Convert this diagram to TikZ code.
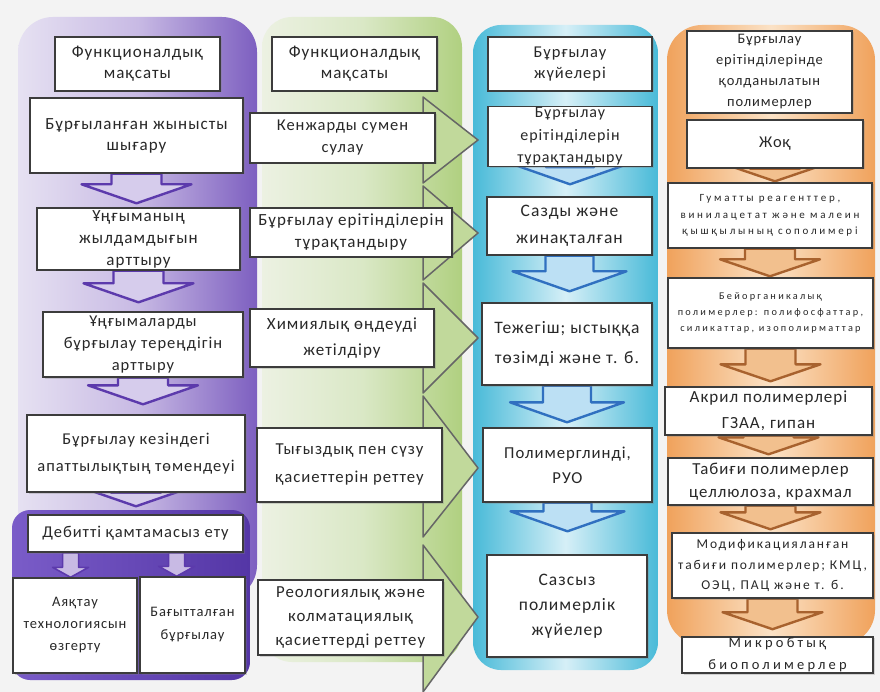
\documentclass[tikz,border=0pt]{standalone}
\usepackage{fontspec}
\setmainfont{Carlito}[LetterSpace=6]
\usetikzlibrary{calc,shadows}
\pgfdeclarelayer{panels}
\pgfdeclarelayer{links}
\pgfsetlayers{panels,links,main}
\definecolor{bgcol}{RGB}{243,243,243}
\definecolor{boxline}{RGB}{60,60,60}
\definecolor{txt}{RGB}{40,40,40}
\definecolor{purpL}{RGB}{230,225,242}
\definecolor{purpM}{RGB}{200,186,228}
\definecolor{purpR}{RGB}{125,95,192}
\definecolor{purpD}{RGB}{122,92,200}
\definecolor{purpE}{RGB}{84,54,166}
\definecolor{purpline}{RGB}{92,58,172}
\definecolor{purparr}{RGB}{214,204,236}
\definecolor{greenL}{RGB}{236,241,226}
\definecolor{greenM}{RGB}{218,232,198}
\definecolor{greenR}{RGB}{176,208,128}
\definecolor{chevfill}{RGB}{193,217,155}
\definecolor{blueE}{RGB}{72,186,216}
\definecolor{blueM}{RGB}{214,239,247}
\definecolor{blueline}{RGB}{48,112,192}
\definecolor{bluearr}{RGB}{188,224,244}
\definecolor{orangeE}{RGB}{240,162,92}
\definecolor{orangeM}{RGB}{251,226,198}
\definecolor{orangeline}{RGB}{168,98,46}
\definecolor{orangearr}{RGB}{242,192,142}
\newcommand{\fsz}[2]{\fontsize{#1}{#2}\selectfont}
\tikzstyle{box}=[rectangle,draw=boxline,line width=1.4pt,fill=white,align=center,inner sep=1pt,text=txt,font=\fsz{16.5}{22},drop shadow={shadow xshift=1.5pt,shadow yshift=-1.5pt,opacity=0.3}]
\tikzstyle{parr}=[draw=purpline,fill=purparr,line width=2.4pt,line join=round]
\tikzstyle{sparr}=[draw=purpline,fill=purpM,line width=1.6pt,line join=round]
\tikzstyle{barr}=[draw=blueline,fill=bluearr,line width=2.4pt,line join=round]
\tikzstyle{oarr}=[draw=orangeline,fill=orangearr,line width=2.4pt,line join=round]
\tikzstyle{chev}=[draw=black!60,fill=chevfill,line width=1.5pt,line join=round]
% block arrow: style, start point, tip point, shaft/head half width, head length
\newcommand{\flowarr}[6][]{%
  \draw[#1] let \p1=#2, \p2=#3 in
    (\x1-#4,\y1) -- (\x1-#4,\y2+#6) -- (\x1-#5,\y2+#6) -- (\x1,\y2)
    -- (\x1+#5,\y2+#6) -- (\x1+#4,\y2+#6) -- (\x1+#4,\y1) -- cycle;}
\begin{document}
\begin{tikzpicture}[x=1pt,y=-1pt]
\useasboundingbox (0,0) rectangle (880,692);
\begin{pgfonlayer}{panels}
\fill[bgcol] (0,0) rectangle (880,692);
\shade[left color=purpL,right color=purpR,middle color=purpM,rounded corners=35] (18,17) rectangle (257,600);
\shade[left color=greenL,right color=greenR,middle color=greenM,rounded corners=30] (262,17) rectangle (462,662);
\shade[left color=blueE,right color=blueE,middle color=blueM,rounded corners=28] (473,25) rectangle (658,670);
\shade[left color=orangeE,right color=orangeE,middle color=orangeM,rounded corners=35] (667,25) rectangle (875,645);
\foreach \ya/\yb/\yc in {97/140/183,186/233/280,283/338/393,396/468/537,545/617/692}
  \draw[chev] (423,\ya) -- (478,\yb) -- (423,\yc) -- cycle;
\end{pgfonlayer}

% column 1
\node[box,minimum width=165,minimum height=54,font=\fsz{17}{21}] (A0) at (137.5,64) {Функционалдық\\мақсаты};
\node[box,minimum width=213,minimum height=75,font=\fsz{17}{21}] (A1) at (136.5,135.5) {Бұрғыланған жынысты\\шығару};
\node[box,minimum width=203,minimum height=62,font=\fsz{17}{22}] (A2) at (138.5,239) {Ұңғыманың\\жылдамдығын\\арттыру};
\node[box,minimum width=200,minimum height=65] (A3) at (143,344.5) {Ұңғымаларды\\бұрғылау тереңдігін\\арттыру};
\node[box,minimum width=218,minimum height=77,font=\fsz{16.5}{27}] (A4) at (136,453.5) {Бұрғылау кезіндегі\\апаттылықтың төмендеуі};
\node[box,minimum width=215,minimum height=37] (A5) at (135.5,533.5) {Дебитті қамтамасыз ету};
\node[box,minimum width=124,minimum height=95,font=\fsz{14.5}{22}] (A6) at (75,625.5) {Аяқтау\\технологиясын\\өзгерту};
\node[box,minimum width=105,minimum height=96,font=\fsz{14.5}{23}] (A7) at (192.5,625) {Бағытталған\\бұрғылау};

% column 2
\node[box,minimum width=165,minimum height=54,font=\fsz{17}{21}] (B0) at (354.5,64) {Функционалдық\\мақсаты};
\node[box,minimum width=185,minimum height=50] (B1) at (342.5,138) {Кенжарды сумен\\сулау};
\node[box,minimum width=202,minimum height=49,font=\fsz{17}{22}] (B2) at (351,232.5) {Бұрғылау ерітінділерін\\тұрақтандыру};
\node[box,minimum width=184,minimum height=58,font=\fsz{17}{26}] (B3) at (342,338) {Химиялық өңдеуді\\жетілдіру};
\node[box,minimum width=185,minimum height=74,font=\fsz{16.7}{28}] (B4) at (349.5,465) {Тығыздық пен сүзу\\қасиеттерін реттеу};
\node[box,minimum width=185,minimum height=75,font=\fsz{16.8}{24}] (B5) at (350.5,617.5) {Реологиялық және\\колматациялық\\қасиеттерді реттеу};

% column 3
\node[box,minimum width=164,minimum height=54,font=\fsz{16.5}{21}] (C0) at (570,64) {Бұрғылау\\жүйелері};
\node[box,minimum width=164,minimum height=57,font=\fsz{16}{22.5}] (C1) at (570,136.5) {Бұрғылау\\ерітінділерін\\тұрақтандыру};
\node[box,minimum width=165,minimum height=58,font=\fsz{17.5}{27}] (C2) at (569.5,226) {Сазды және\\жинақталған};
\node[box,minimum width=170,minimum height=82,font=\fsz{17.5}{30}] (C3) at (567,344) {Тежегіш; ыстыққа\\төзімді және т. б.};
\node[box,minimum width=169,minimum height=74,font=\fsz{16.7}{25}] (C4) at (567.5,465) {Полимерглинді,\\РУО};
\node[box,minimum width=160,minimum height=102,font=\fsz{17.5}{25}] (C5) at (567,606) {Сазсыз\\полимерлік\\жүйелер};

% column 4
\node[box,minimum width=165,minimum height=82,font=\fsz{14.5}{21}] (D0) at (769.5,72) {Бұрғылау\\ерітінділерінде\\қолданылатын\\полимерлер};
\node[box,minimum width=176,minimum height=48] (D1) at (775,144) {Жоқ};
\node[box,minimum width=204,minimum height=65,font={\fsz{11}{16.5}\addfontfeatures{LetterSpace=25}}] (D2) at (770,215.5) {Гуматты реагенттер,\\винилацетат және малеин\\қышқылының сополимері};
\node[box,minimum width=205,minimum height=70,font={\fsz{10.3}{16}\addfontfeatures{LetterSpace=22}}] (D3) at (770.5,313) {Бейорганикалық\\полимерлер: полифосфаттар,\\силикаттар, изополирматтар};
\node[box,minimum width=207,minimum height=48,font=\fsz{17}{26}] (D4) at (768.5,411) {Акрил полимерлері\\ГЗАА, гипан};
\node[box,minimum width=205,minimum height=47,font=\fsz{16.8}{23}] (D5) at (770.5,481.5) {Табиғи полимерлер\\целлюлоза, крахмал};
\node[box,minimum width=201,minimum height=65,font={\fsz{13.5}{20.5}\addfontfeatures{LetterSpace=14}}] (D6) at (772.5,565.5) {Модификацияланған\\табиғи полимерлер; КМЦ,\\ОЭЦ, ПАЦ және т. б.};
\node[box,minimum width=191,minimum height=36,font={\fsz{14.5}{22}\addfontfeatures{LetterSpace=22}}] (D7) at (777.5,655) {Микробтық\\биополимерлер};

\begin{pgfonlayer}{links}
\flowarr[parr]{(A1.south)}{([yshift=4pt]A2.north)}{25pt}{55pt}{19pt}
\flowarr[parr]{(A2.south)}{([yshift=9pt]A3.north)}{25pt}{55pt}{19pt}
\flowarr[parr]{(A3.south)}{([yshift=10pt]A4.north)}{25pt}{55pt}{19pt}
\flowarr[parr]{(A4.south)}{([yshift=8pt]A5.north)}{25pt}{55pt}{19pt}
\shade[left color=purpD,right color=purpE,rounded corners=18] (12,510) rectangle (250,680);
\flowarr[sparr]{($(A5.south west)!0.2!(A5.south east)$)}{(A6.north)}{8pt}{18pt}{10pt}
\flowarr[sparr]{($(A5.south west)!0.69!(A5.south east)$)}{(A7.north)}{8pt}{18pt}{10pt}
\flowarr[barr]{(C1.south)}{([yshift=12pt]C2.north)}{24pt}{57pt}{20pt}
\flowarr[barr]{(C2.south)}{([yshift=11pt]C3.north)}{24pt}{57pt}{20pt}
\flowarr[barr]{(C3.south)}{([yshift=5pt]C4.north)}{24pt}{57pt}{20pt}
\flowarr[barr]{(C4.south)}{([yshift=23pt]C5.north)}{24pt}{57pt}{20pt}
\flowarr[oarr]{(D1.south)}{([yshift=1pt]D2.north)}{25pt}{50pt}{17pt}
\flowarr[oarr]{(D2.south)}{([yshift=1pt]D3.north)}{25pt}{50pt}{17pt}
\flowarr[oarr]{(D3.south)}{([yshift=5pt]D4.north)}{25pt}{50pt}{17pt}
\flowarr[oarr]{(D4.south)}{([yshift=3pt]D5.north)}{25pt}{50pt}{17pt}
\flowarr[oarr]{(D5.south)}{([yshift=3pt]D6.north)}{25pt}{50pt}{17pt}
\flowarr[oarr]{(D6.south)}{([yshift=7pt]D7.north)}{25pt}{50pt}{17pt}
\end{pgfonlayer}
\end{tikzpicture}
\end{document}
